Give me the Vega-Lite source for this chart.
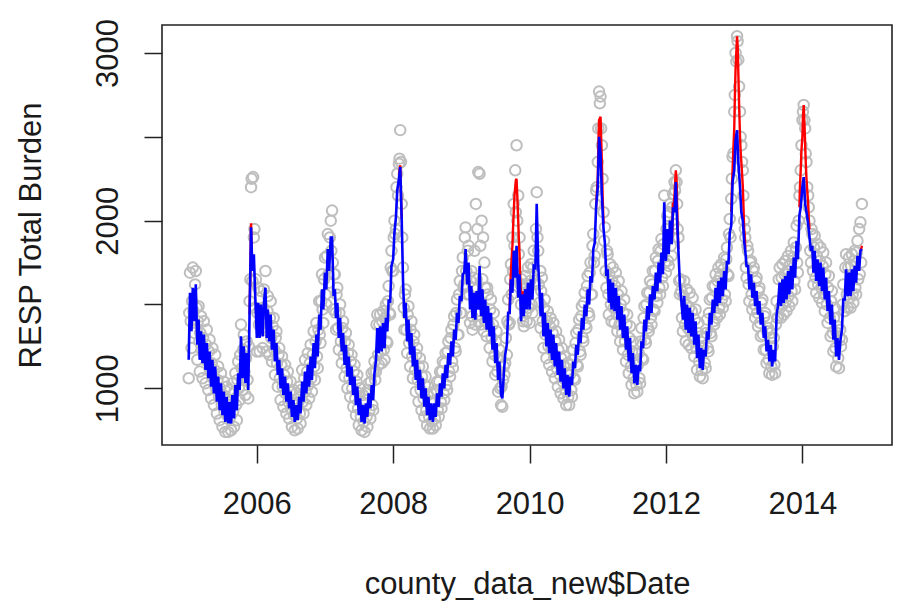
{
  "$schema": "https://vega.github.io/schema/vega-lite/v6.json",
  "width": 730,
  "height": 420,
  "autosize": {"type": "none"},
  "padding": {"left": 162, "top": 25, "right": 6, "bottom": 169},
  "background": "white",
  "config": {
    "view": {"stroke": "#222222", "strokeWidth": 1.6},
    "font": "Liberation Sans",
    "axis": {
      "domain": false,
      "grid": false,
      "ticks": true,
      "tickColor": "#222222",
      "tickWidth": 1.5,
      "tickSize": 18,
      "labelFont": "Liberation Sans",
      "labelFontSize": 31,
      "labelColor": "#1a1a1a",
      "titleFont": "Liberation Sans",
      "titleFontSize": 31,
      "titleFontWeight": "normal",
      "titleColor": "#1a1a1a"
    }
  },
  "data": {
    "values": [
      {"date":"2005-01-01","obs":1060,"fit2":1170},
      {"date":"2005-01-04","obs":1450},
      {"date":"2005-01-08","obs":1690,"fit2":1570},
      {"date":"2005-01-12","obs":1400},
      {"date":"2005-01-16","obs":1240,"fit2":1340},
      {"date":"2005-01-19","obs":1520},
      {"date":"2005-01-23","obs":1720,"fit2":1600},
      {"date":"2005-01-27","obs":1460},
      {"date":"2005-02-01","obs":1330,"fit2":1400},
      {"date":"2005-02-04","obs":1620},
      {"date":"2005-02-08","obs":1700,"fit2":1620},
      {"date":"2005-02-12","obs":1480},
      {"date":"2005-02-16","obs":1170,"fit2":1260},
      {"date":"2005-02-19","obs":1400},
      {"date":"2005-02-23","obs":1490,"fit2":1410},
      {"date":"2005-02-27","obs":1280},
      {"date":"2005-03-01","obs":1100,"fit2":1170},
      {"date":"2005-03-04","obs":1330},
      {"date":"2005-03-08","obs":1430,"fit2":1340},
      {"date":"2005-03-12","obs":1230},
      {"date":"2005-03-16","obs":1060,"fit2":1150},
      {"date":"2005-03-19","obs":1300},
      {"date":"2005-03-23","obs":1400,"fit2":1320},
      {"date":"2005-03-27","obs":1200},
      {"date":"2005-04-01","obs":1030,"fit2":1110},
      {"date":"2005-04-04","obs":1260},
      {"date":"2005-04-08","obs":1350,"fit2":1270},
      {"date":"2005-04-12","obs":1160},
      {"date":"2005-04-16","obs":990,"fit2":1060},
      {"date":"2005-04-19","obs":1220},
      {"date":"2005-04-23","obs":1290,"fit2":1220},
      {"date":"2005-04-27","obs":1100},
      {"date":"2005-05-01","obs":940,"fit2":1010},
      {"date":"2005-05-04","obs":1150},
      {"date":"2005-05-08","obs":1240,"fit2":1170},
      {"date":"2005-05-12","obs":1060},
      {"date":"2005-05-16","obs":900,"fit2":970},
      {"date":"2005-05-19","obs":1110},
      {"date":"2005-05-23","obs":1200,"fit2":1130},
      {"date":"2005-05-27","obs":1000},
      {"date":"2005-06-01","obs":850,"fit2":920},
      {"date":"2005-06-04","obs":1050},
      {"date":"2005-06-08","obs":1130,"fit2":1070},
      {"date":"2005-06-12","obs":950},
      {"date":"2005-06-16","obs":810,"fit2":870},
      {"date":"2005-06-19","obs":1000},
      {"date":"2005-06-23","obs":1090,"fit2":1030},
      {"date":"2005-06-27","obs":900},
      {"date":"2005-07-01","obs":770,"fit2":840},
      {"date":"2005-07-04","obs":960},
      {"date":"2005-07-08","obs":1040,"fit2":980},
      {"date":"2005-07-12","obs":860},
      {"date":"2005-07-16","obs":740,"fit2":800},
      {"date":"2005-07-19","obs":930},
      {"date":"2005-07-23","obs":1010,"fit2":950},
      {"date":"2005-07-27","obs":840},
      {"date":"2005-08-01","obs":740,"fit2":790},
      {"date":"2005-08-04","obs":900},
      {"date":"2005-08-08","obs":990,"fit2":920},
      {"date":"2005-08-12","obs":830},
      {"date":"2005-08-16","obs":750,"fit2":790},
      {"date":"2005-08-19","obs":920},
      {"date":"2005-08-23","obs":1030,"fit2":960},
      {"date":"2005-08-27","obs":860},
      {"date":"2005-09-01","obs":770,"fit2":820},
      {"date":"2005-09-04","obs":980},
      {"date":"2005-09-08","obs":1090,"fit2":1020},
      {"date":"2005-09-12","obs":900},
      {"date":"2005-09-16","obs":810,"fit2":870},
      {"date":"2005-09-19","obs":1050},
      {"date":"2005-09-23","obs":1160,"fit2":1090},
      {"date":"2005-09-27","obs":1000},
      {"date":"2005-10-01","obs":930,"fit2":990},
      {"date":"2005-10-04","obs":1200},
      {"date":"2005-10-08","obs":1380,"fit2":1310},
      {"date":"2005-10-12","obs":1120},
      {"date":"2005-10-16","obs":990,"fit2":1060},
      {"date":"2005-10-19","obs":1230},
      {"date":"2005-10-23","obs":1320,"fit2":1250},
      {"date":"2005-10-27","obs":1100},
      {"date":"2005-11-01","obs":960,"fit2":1030},
      {"date":"2005-11-04","obs":1180},
      {"date":"2005-11-08","obs":1280,"fit2":1210},
      {"date":"2005-11-12","obs":1050},
      {"date":"2005-11-16","obs":940,"fit2":990},
      {"date":"2005-11-19","obs":1250},
      {"date":"2005-11-23","obs":1520,"fit1":1440,"fit2":1440},
      {"date":"2005-11-27","obs":1650,"fit1":1700},
      {"date":"2005-12-01","obs":2200,"fit1":1985,"fit2":1960},
      {"date":"2005-12-04","obs":2250,"fit1":1850},
      {"date":"2005-12-08","obs":1640,"fit1":1720,"fit2":1700},
      {"date":"2005-12-12","obs":2260},
      {"date":"2005-12-16","obs":1900,"fit2":1800},
      {"date":"2005-12-19","obs":1950},
      {"date":"2005-12-23","obs":1480,"fit2":1560},
      {"date":"2005-12-27","obs":1650},
      {"date":"2006-01-01","obs":1220,"fit2":1300},
      {"date":"2006-01-04","obs":1450},
      {"date":"2006-01-08","obs":1600,"fit2":1510},
      {"date":"2006-01-12","obs":1380},
      {"date":"2006-01-16","obs":1220,"fit2":1300},
      {"date":"2006-01-19","obs":1470},
      {"date":"2006-01-23","obs":1580,"fit2":1500},
      {"date":"2006-01-27","obs":1360},
      {"date":"2006-02-01","obs":1240,"fit2":1310},
      {"date":"2006-02-04","obs":1480},
      {"date":"2006-02-08","obs":1590,"fit2":1510},
      {"date":"2006-02-12","obs":1400},
      {"date":"2006-02-16","obs":1700,"fit2":1600},
      {"date":"2006-02-19","obs":1420},
      {"date":"2006-02-23","obs":1220,"fit2":1300},
      {"date":"2006-02-27","obs":1460},
      {"date":"2006-03-01","obs":1550,"fit2":1470},
      {"date":"2006-03-04","obs":1340},
      {"date":"2006-03-08","obs":1200,"fit2":1280},
      {"date":"2006-03-12","obs":1420},
      {"date":"2006-03-16","obs":1520,"fit2":1440},
      {"date":"2006-03-19","obs":1300},
      {"date":"2006-03-23","obs":1160,"fit2":1230},
      {"date":"2006-03-27","obs":1370},
      {"date":"2006-04-01","obs":1420,"fit2":1350},
      {"date":"2006-04-04","obs":1230},
      {"date":"2006-04-08","obs":1080,"fit2":1160},
      {"date":"2006-04-12","obs":1300},
      {"date":"2006-04-16","obs":1340,"fit2":1270},
      {"date":"2006-04-19","obs":1150},
      {"date":"2006-04-23","obs":1010,"fit2":1080},
      {"date":"2006-04-27","obs":1200},
      {"date":"2006-05-01","obs":1240,"fit2":1170},
      {"date":"2006-05-04","obs":1060},
      {"date":"2006-05-08","obs":930,"fit2":1000},
      {"date":"2006-05-12","obs":1140},
      {"date":"2006-05-16","obs":1190,"fit2":1120},
      {"date":"2006-05-19","obs":1010},
      {"date":"2006-05-23","obs":890,"fit2":960},
      {"date":"2006-05-27","obs":1080},
      {"date":"2006-06-01","obs":1140,"fit2":1070},
      {"date":"2006-06-04","obs":970},
      {"date":"2006-06-08","obs":850,"fit2":920},
      {"date":"2006-06-12","obs":1040},
      {"date":"2006-06-16","obs":1100,"fit2":1030},
      {"date":"2006-06-19","obs":920},
      {"date":"2006-06-23","obs":820,"fit2":880},
      {"date":"2006-06-27","obs":980},
      {"date":"2006-07-01","obs":1040,"fit2":980},
      {"date":"2006-07-04","obs":880},
      {"date":"2006-07-08","obs":770,"fit2":830},
      {"date":"2006-07-12","obs":930},
      {"date":"2006-07-16","obs":990,"fit2":930},
      {"date":"2006-07-19","obs":840},
      {"date":"2006-07-23","obs":750,"fit2":800},
      {"date":"2006-07-27","obs":900},
      {"date":"2006-08-01","obs":970,"fit2":900},
      {"date":"2006-08-04","obs":820},
      {"date":"2006-08-08","obs":760,"fit2":810},
      {"date":"2006-08-12","obs":920},
      {"date":"2006-08-16","obs":1010,"fit2":950},
      {"date":"2006-08-19","obs":850},
      {"date":"2006-08-23","obs":790,"fit2":850},
      {"date":"2006-08-27","obs":990},
      {"date":"2006-09-01","obs":1110,"fit2":1040},
      {"date":"2006-09-04","obs":920},
      {"date":"2006-09-08","obs":850,"fit2":920},
      {"date":"2006-09-12","obs":1060},
      {"date":"2006-09-16","obs":1170,"fit2":1100},
      {"date":"2006-09-19","obs":980},
      {"date":"2006-09-23","obs":900,"fit2":970},
      {"date":"2006-09-27","obs":1100},
      {"date":"2006-10-01","obs":1210,"fit2":1140},
      {"date":"2006-10-04","obs":1020},
      {"date":"2006-10-08","obs":940,"fit2":1010},
      {"date":"2006-10-12","obs":1150},
      {"date":"2006-10-16","obs":1260,"fit2":1190},
      {"date":"2006-10-19","obs":1060},
      {"date":"2006-10-23","obs":980,"fit2":1050},
      {"date":"2006-10-27","obs":1200},
      {"date":"2006-11-01","obs":1340,"fit2":1270},
      {"date":"2006-11-04","obs":1130},
      {"date":"2006-11-08","obs":1050,"fit2":1120},
      {"date":"2006-11-12","obs":1280},
      {"date":"2006-11-16","obs":1390,"fit2":1320},
      {"date":"2006-11-19","obs":1190},
      {"date":"2006-11-23","obs":1120,"fit2":1190},
      {"date":"2006-11-27","obs":1350},
      {"date":"2006-12-01","obs":1520,"fit2":1440},
      {"date":"2006-12-04","obs":1320},
      {"date":"2006-12-08","obs":1270,"fit2":1350},
      {"date":"2006-12-12","obs":1520},
      {"date":"2006-12-16","obs":1680,"fit2":1590},
      {"date":"2006-12-19","obs":1470},
      {"date":"2006-12-23","obs":1390,"fit2":1470},
      {"date":"2006-12-27","obs":1650},
      {"date":"2007-01-01","obs":1780,"fit2":1690},
      {"date":"2007-01-04","obs":1560},
      {"date":"2007-01-08","obs":1500,"fit2":1590},
      {"date":"2007-01-12","obs":1790},
      {"date":"2007-01-16","obs":1920,"fit2":1830},
      {"date":"2007-01-19","obs":1680},
      {"date":"2007-01-23","obs":1630,"fit2":1700},
      {"date":"2007-01-27","obs":1900},
      {"date":"2007-02-01","obs":2000,"fit2":1900},
      {"date":"2007-02-04","obs":1820},
      {"date":"2007-02-08","obs":2060,"fit2":1900},
      {"date":"2007-02-12","obs":1750},
      {"date":"2007-02-16","obs":1470,"fit2":1550},
      {"date":"2007-02-19","obs":1680},
      {"date":"2007-02-23","obs":1680,"fit2":1590},
      {"date":"2007-02-27","obs":1450},
      {"date":"2007-03-01","obs":1350,"fit2":1420},
      {"date":"2007-03-04","obs":1560},
      {"date":"2007-03-08","obs":1600,"fit2":1510},
      {"date":"2007-03-12","obs":1360},
      {"date":"2007-03-16","obs":1230,"fit2":1300},
      {"date":"2007-03-19","obs":1450},
      {"date":"2007-03-23","obs":1500,"fit2":1420},
      {"date":"2007-03-27","obs":1280},
      {"date":"2007-04-01","obs":1150,"fit2":1220},
      {"date":"2007-04-04","obs":1360},
      {"date":"2007-04-08","obs":1400,"fit2":1330},
      {"date":"2007-04-12","obs":1200},
      {"date":"2007-04-16","obs":1070,"fit2":1140},
      {"date":"2007-04-19","obs":1280},
      {"date":"2007-04-23","obs":1330,"fit2":1260},
      {"date":"2007-04-27","obs":1120},
      {"date":"2007-05-01","obs":1000,"fit2":1070},
      {"date":"2007-05-04","obs":1210},
      {"date":"2007-05-08","obs":1260,"fit2":1190},
      {"date":"2007-05-12","obs":1060},
      {"date":"2007-05-16","obs":950,"fit2":1020},
      {"date":"2007-05-19","obs":1160},
      {"date":"2007-05-23","obs":1200,"fit2":1130},
      {"date":"2007-05-27","obs":1000},
      {"date":"2007-06-01","obs":890,"fit2":960},
      {"date":"2007-06-04","obs":1100},
      {"date":"2007-06-08","obs":1140,"fit2":1070},
      {"date":"2007-06-12","obs":940},
      {"date":"2007-06-16","obs":840,"fit2":900},
      {"date":"2007-06-19","obs":1040},
      {"date":"2007-06-23","obs":1080,"fit2":1010},
      {"date":"2007-06-27","obs":880},
      {"date":"2007-07-01","obs":780,"fit2":840},
      {"date":"2007-07-04","obs":970},
      {"date":"2007-07-08","obs":1000,"fit2":940},
      {"date":"2007-07-12","obs":830},
      {"date":"2007-07-16","obs":750,"fit2":800},
      {"date":"2007-07-19","obs":920},
      {"date":"2007-07-23","obs":960,"fit2":900},
      {"date":"2007-07-27","obs":800},
      {"date":"2007-08-01","obs":740,"fit2":790},
      {"date":"2007-08-04","obs":930},
      {"date":"2007-08-08","obs":970,"fit2":910},
      {"date":"2007-08-12","obs":830},
      {"date":"2007-08-16","obs":770,"fit2":830},
      {"date":"2007-08-19","obs":990},
      {"date":"2007-08-23","obs":1030,"fit2":970},
      {"date":"2007-08-27","obs":870},
      {"date":"2007-09-01","obs":820,"fit2":880},
      {"date":"2007-09-04","obs":1040},
      {"date":"2007-09-08","obs":1090,"fit2":1020},
      {"date":"2007-09-12","obs":900},
      {"date":"2007-09-16","obs":870,"fit2":930},
      {"date":"2007-09-19","obs":1100},
      {"date":"2007-09-23","obs":1160,"fit2":1090},
      {"date":"2007-09-27","obs":1050},
      {"date":"2007-10-01","obs":1100,"fit2":1170},
      {"date":"2007-10-04","obs":1380},
      {"date":"2007-10-08","obs":1440,"fit2":1360},
      {"date":"2007-10-12","obs":1200},
      {"date":"2007-10-16","obs":1140,"fit2":1210},
      {"date":"2007-10-19","obs":1380},
      {"date":"2007-10-23","obs":1440,"fit2":1370},
      {"date":"2007-10-27","obs":1220},
      {"date":"2007-11-01","obs":1150,"fit2":1220},
      {"date":"2007-11-04","obs":1400},
      {"date":"2007-11-08","obs":1460,"fit2":1390},
      {"date":"2007-11-12","obs":1230},
      {"date":"2007-11-16","obs":1170,"fit2":1240},
      {"date":"2007-11-19","obs":1420},
      {"date":"2007-11-23","obs":1500,"fit2":1420},
      {"date":"2007-11-27","obs":1280},
      {"date":"2007-12-01","obs":1270,"fit2":1340},
      {"date":"2007-12-04","obs":1520},
      {"date":"2007-12-08","obs":1610,"fit2":1530},
      {"date":"2007-12-12","obs":1450},
      {"date":"2007-12-16","obs":1440,"fit2":1510},
      {"date":"2007-12-19","obs":1720},
      {"date":"2007-12-23","obs":1820,"fit2":1730},
      {"date":"2007-12-27","obs":1700},
      {"date":"2008-01-01","obs":1700,"fit2":1770},
      {"date":"2008-01-04","obs":1900},
      {"date":"2008-01-08","obs":2000,"fit2":1930},
      {"date":"2008-01-12","obs":1920},
      {"date":"2008-01-16","obs":1950,"fit2":2020},
      {"date":"2008-01-19","obs":2200},
      {"date":"2008-01-23","obs":2280,"fit2":2180},
      {"date":"2008-01-27","obs":2150},
      {"date":"2008-02-01","obs":2340,"fit1":2270,"fit2":2250},
      {"date":"2008-02-04","obs":2370,"fit1":2300},
      {"date":"2008-02-08","obs":2540,"fit1":2330,"fit2":2320},
      {"date":"2008-02-12","obs":2350,"fit1":2150},
      {"date":"2008-02-16","obs":2100,"fit1":2010,"fit2":2000},
      {"date":"2008-02-19","obs":1900},
      {"date":"2008-02-23","obs":1720,"fit2":1640},
      {"date":"2008-02-27","obs":1480},
      {"date":"2008-03-01","obs":1350,"fit2":1420},
      {"date":"2008-03-04","obs":1560},
      {"date":"2008-03-08","obs":1590,"fit2":1510},
      {"date":"2008-03-12","obs":1350},
      {"date":"2008-03-16","obs":1210,"fit2":1280},
      {"date":"2008-03-19","obs":1440},
      {"date":"2008-03-23","obs":1490,"fit2":1410},
      {"date":"2008-03-27","obs":1270},
      {"date":"2008-04-01","obs":1130,"fit2":1200},
      {"date":"2008-04-04","obs":1350},
      {"date":"2008-04-08","obs":1400,"fit2":1330},
      {"date":"2008-04-12","obs":1190},
      {"date":"2008-04-16","obs":1060,"fit2":1130},
      {"date":"2008-04-19","obs":1280},
      {"date":"2008-04-23","obs":1320,"fit2":1250},
      {"date":"2008-04-27","obs":1110},
      {"date":"2008-05-01","obs":980,"fit2":1050},
      {"date":"2008-05-04","obs":1200},
      {"date":"2008-05-08","obs":1240,"fit2":1170},
      {"date":"2008-05-12","obs":1050},
      {"date":"2008-05-16","obs":920,"fit2":990},
      {"date":"2008-05-19","obs":1130},
      {"date":"2008-05-23","obs":1180,"fit2":1110},
      {"date":"2008-05-27","obs":990},
      {"date":"2008-06-01","obs":870,"fit2":940},
      {"date":"2008-06-04","obs":1070},
      {"date":"2008-06-08","obs":1130,"fit2":1060},
      {"date":"2008-06-12","obs":940},
      {"date":"2008-06-16","obs":830,"fit2":890},
      {"date":"2008-06-19","obs":1020},
      {"date":"2008-06-23","obs":1070,"fit2":1000},
      {"date":"2008-06-27","obs":870},
      {"date":"2008-07-01","obs":780,"fit2":840},
      {"date":"2008-07-04","obs":960},
      {"date":"2008-07-08","obs":1010,"fit2":950},
      {"date":"2008-07-12","obs":830},
      {"date":"2008-07-16","obs":760,"fit2":810},
      {"date":"2008-07-19","obs":920},
      {"date":"2008-07-23","obs":970,"fit2":910},
      {"date":"2008-07-27","obs":800},
      {"date":"2008-08-01","obs":760,"fit2":800},
      {"date":"2008-08-04","obs":920},
      {"date":"2008-08-08","obs":970,"fit2":910},
      {"date":"2008-08-12","obs":820},
      {"date":"2008-08-16","obs":780,"fit2":830},
      {"date":"2008-08-19","obs":990},
      {"date":"2008-08-23","obs":1040,"fit2":970},
      {"date":"2008-08-27","obs":870},
      {"date":"2008-09-01","obs":830,"fit2":890},
      {"date":"2008-09-04","obs":1040},
      {"date":"2008-09-08","obs":1100,"fit2":1030},
      {"date":"2008-09-12","obs":920},
      {"date":"2008-09-16","obs":880,"fit2":950},
      {"date":"2008-09-19","obs":1100},
      {"date":"2008-09-23","obs":1160,"fit2":1090},
      {"date":"2008-09-27","obs":970},
      {"date":"2008-10-01","obs":930,"fit2":1000},
      {"date":"2008-10-04","obs":1150},
      {"date":"2008-10-08","obs":1210,"fit2":1140},
      {"date":"2008-10-12","obs":1020},
      {"date":"2008-10-16","obs":990,"fit2":1060},
      {"date":"2008-10-19","obs":1220},
      {"date":"2008-10-23","obs":1280,"fit2":1210},
      {"date":"2008-10-27","obs":1100},
      {"date":"2008-11-01","obs":1070,"fit2":1140},
      {"date":"2008-11-04","obs":1300},
      {"date":"2008-11-08","obs":1350,"fit2":1280},
      {"date":"2008-11-12","obs":1160},
      {"date":"2008-11-16","obs":1120,"fit2":1190},
      {"date":"2008-11-19","obs":1380},
      {"date":"2008-11-23","obs":1430,"fit2":1350},
      {"date":"2008-11-27","obs":1240},
      {"date":"2008-12-01","obs":1220,"fit2":1290},
      {"date":"2008-12-04","obs":1450},
      {"date":"2008-12-08","obs":1530,"fit2":1450},
      {"date":"2008-12-12","obs":1320},
      {"date":"2008-12-16","obs":1320,"fit2":1390},
      {"date":"2008-12-19","obs":1560},
      {"date":"2008-12-23","obs":1640,"fit2":1550},
      {"date":"2008-12-27","obs":1450},
      {"date":"2009-01-01","obs":1450,"fit2":1520},
      {"date":"2009-01-04","obs":1700},
      {"date":"2009-01-08","obs":1780,"fit2":1680},
      {"date":"2009-01-12","obs":1600},
      {"date":"2009-01-16","obs":1620,"fit2":1690},
      {"date":"2009-01-19","obs":1900},
      {"date":"2009-01-23","obs":1960,"fit2":1830},
      {"date":"2009-01-27","obs":1700},
      {"date":"2009-02-01","obs":1560,"fit2":1620},
      {"date":"2009-02-04","obs":1820},
      {"date":"2009-02-08","obs":1850,"fit2":1750},
      {"date":"2009-02-12","obs":1560},
      {"date":"2009-02-16","obs":1390,"fit2":1470},
      {"date":"2009-02-19","obs":1640},
      {"date":"2009-02-23","obs":1700,"fit2":1610},
      {"date":"2009-02-27","obs":1430},
      {"date":"2009-03-01","obs":1350,"fit2":1420},
      {"date":"2009-03-04","obs":1600},
      {"date":"2009-03-08","obs":1660,"fit2":1570},
      {"date":"2009-03-12","obs":1820},
      {"date":"2009-03-16","obs":1380,"fit2":1410},
      {"date":"2009-03-19","obs":2100},
      {"date":"2009-03-23","obs":1650,"fit2":1580},
      {"date":"2009-03-27","obs":1950},
      {"date":"2009-04-01","obs":2290,"fit2":1470},
      {"date":"2009-04-04","obs":1400},
      {"date":"2009-04-08","obs":2280,"fit2":1730},
      {"date":"2009-04-12","obs":1850},
      {"date":"2009-04-16","obs":1380,"fit2":1430},
      {"date":"2009-04-19","obs":2000},
      {"date":"2009-04-23","obs":1650,"fit2":1590},
      {"date":"2009-04-27","obs":1900},
      {"date":"2009-05-01","obs":1340,"fit2":1390},
      {"date":"2009-05-04","obs":1750},
      {"date":"2009-05-08","obs":1600,"fit2":1530},
      {"date":"2009-05-12","obs":1400},
      {"date":"2009-05-16","obs":1310,"fit2":1350},
      {"date":"2009-05-19","obs":1600},
      {"date":"2009-05-23","obs":1560,"fit2":1490},
      {"date":"2009-05-27","obs":1380},
      {"date":"2009-06-01","obs":1240,"fit2":1310},
      {"date":"2009-06-04","obs":1470},
      {"date":"2009-06-08","obs":1530,"fit2":1450},
      {"date":"2009-06-12","obs":1300},
      {"date":"2009-06-16","obs":1160,"fit2":1230},
      {"date":"2009-06-19","obs":1380},
      {"date":"2009-06-23","obs":1450,"fit2":1370},
      {"date":"2009-06-27","obs":1200},
      {"date":"2009-07-01","obs":1080,"fit2":1150},
      {"date":"2009-07-04","obs":1280},
      {"date":"2009-07-08","obs":1340,"fit2":1270},
      {"date":"2009-07-12","obs":1100},
      {"date":"2009-07-16","obs":980,"fit2":1050},
      {"date":"2009-07-19","obs":1180},
      {"date":"2009-07-23","obs":1230,"fit2":1160},
      {"date":"2009-07-27","obs":1000},
      {"date":"2009-08-01","obs":900,"fit2":960},
      {"date":"2009-08-04","obs":1010},
      {"date":"2009-08-08","obs":890,"fit2":940},
      {"date":"2009-08-12","obs":1050},
      {"date":"2009-08-16","obs":1130,"fit2":1090},
      {"date":"2009-08-19","obs":1080},
      {"date":"2009-08-23","obs":1150,"fit2":1200},
      {"date":"2009-08-27","obs":1300},
      {"date":"2009-09-01","obs":1200,"fit2":1260},
      {"date":"2009-09-04","obs":1400},
      {"date":"2009-09-08","obs":1530,"fit2":1450},
      {"date":"2009-09-12","obs":1380},
      {"date":"2009-09-16","obs":1390,"fit1":1450,"fit2":1450},
      {"date":"2009-09-19","obs":1650,"fit1":1600},
      {"date":"2009-09-23","obs":1740,"fit1":1700,"fit2":1650},
      {"date":"2009-09-27","obs":1560,"fit1":1780},
      {"date":"2009-10-01","obs":1900,"fit1":1850,"fit2":1570},
      {"date":"2009-10-04","obs":1700,"fit1":1950},
      {"date":"2009-10-08","obs":2100,"fit1":2050,"fit2":1820},
      {"date":"2009-10-12","obs":1850,"fit1":2150},
      {"date":"2009-10-16","obs":2300,"fit1":2200,"fit2":1660},
      {"date":"2009-10-19","obs":2050,"fit1":2240},
      {"date":"2009-10-23","obs":2450,"fit1":2250,"fit2":1850},
      {"date":"2009-10-27","obs":2000,"fit1":2150},
      {"date":"2009-11-01","obs":2150,"fit1":2000,"fit2":1540},
      {"date":"2009-11-04","obs":1800,"fit1":1900},
      {"date":"2009-11-08","obs":1900,"fit1":1800,"fit2":1680},
      {"date":"2009-11-12","obs":1620,"fit1":1650},
      {"date":"2009-11-16","obs":1500,"fit1":1560,"fit2":1400},
      {"date":"2009-11-19","obs":1650,"fit1":1540},
      {"date":"2009-11-23","obs":1620,"fit1":1580,"fit2":1560},
      {"date":"2009-11-27","obs":1400,"fit1":1520},
      {"date":"2009-12-01","obs":1370,"fit1":1500,"fit2":1430},
      {"date":"2009-12-04","obs":1600,"fit1":1530},
      {"date":"2009-12-08","obs":1670,"fit1":1590,"fit2":1590},
      {"date":"2009-12-12","obs":1450},
      {"date":"2009-12-16","obs":1400,"fit2":1470},
      {"date":"2009-12-19","obs":1620},
      {"date":"2009-12-23","obs":1720,"fit2":1630},
      {"date":"2009-12-27","obs":1480},
      {"date":"2010-01-01","obs":1390,"fit2":1470},
      {"date":"2010-01-04","obs":1640},
      {"date":"2010-01-08","obs":1740,"fit2":1650},
      {"date":"2010-01-12","obs":1500},
      {"date":"2010-01-16","obs":1450,"fit2":1530},
      {"date":"2010-01-19","obs":1720},
      {"date":"2010-01-23","obs":1820,"fit2":1730},
      {"date":"2010-01-27","obs":1620},
      {"date":"2010-02-01","obs":1640,"fit2":1720},
      {"date":"2010-02-04","obs":1950},
      {"date":"2010-02-08","obs":2170,"fit2":2100},
      {"date":"2010-02-12","obs":1900},
      {"date":"2010-02-16","obs":1820,"fit2":1740},
      {"date":"2010-02-19","obs":1620},
      {"date":"2010-02-23","obs":1510,"fit2":1590},
      {"date":"2010-02-27","obs":1700},
      {"date":"2010-03-01","obs":1360,"fit2":1430},
      {"date":"2010-03-04","obs":1580},
      {"date":"2010-03-08","obs":1660,"fit2":1570},
      {"date":"2010-03-12","obs":1400},
      {"date":"2010-03-16","obs":1240,"fit2":1310},
      {"date":"2010-03-19","obs":1480},
      {"date":"2010-03-23","obs":1530,"fit2":1450},
      {"date":"2010-03-27","obs":1320},
      {"date":"2010-04-01","obs":1180,"fit2":1250},
      {"date":"2010-04-04","obs":1400},
      {"date":"2010-04-08","obs":1460,"fit2":1390},
      {"date":"2010-04-12","obs":1250},
      {"date":"2010-04-16","obs":1140,"fit2":1210},
      {"date":"2010-04-19","obs":1370},
      {"date":"2010-04-23","obs":1420,"fit2":1350},
      {"date":"2010-04-27","obs":1230},
      {"date":"2010-05-01","obs":1100,"fit2":1170},
      {"date":"2010-05-04","obs":1330},
      {"date":"2010-05-08","obs":1390,"fit2":1320},
      {"date":"2010-05-12","obs":1180},
      {"date":"2010-05-16","obs":1060,"fit2":1130},
      {"date":"2010-05-19","obs":1280},
      {"date":"2010-05-23","obs":1340,"fit2":1270},
      {"date":"2010-05-27","obs":1120},
      {"date":"2010-06-01","obs":1010,"fit2":1080},
      {"date":"2010-06-04","obs":1230},
      {"date":"2010-06-08","obs":1290,"fit2":1220},
      {"date":"2010-06-12","obs":1080},
      {"date":"2010-06-16","obs":970,"fit2":1040},
      {"date":"2010-06-19","obs":1180},
      {"date":"2010-06-23","obs":1240,"fit2":1170},
      {"date":"2010-06-27","obs":1040},
      {"date":"2010-07-01","obs":940,"fit2":1000},
      {"date":"2010-07-04","obs":1130},
      {"date":"2010-07-08","obs":1190,"fit2":1120},
      {"date":"2010-07-12","obs":990},
      {"date":"2010-07-16","obs":900,"fit2":960},
      {"date":"2010-07-19","obs":1090},
      {"date":"2010-07-23","obs":1150,"fit2":1080},
      {"date":"2010-07-27","obs":950},
      {"date":"2010-08-01","obs":900,"fit2":950},
      {"date":"2010-08-04","obs":1080},
      {"date":"2010-08-08","obs":1140,"fit2":1070},
      {"date":"2010-08-12","obs":990},
      {"date":"2010-08-16","obs":950,"fit2":1020},
      {"date":"2010-08-19","obs":1170},
      {"date":"2010-08-23","obs":1230,"fit2":1160},
      {"date":"2010-08-27","obs":1060},
      {"date":"2010-09-01","obs":1050,"fit2":1120},
      {"date":"2010-09-04","obs":1270},
      {"date":"2010-09-08","obs":1330,"fit2":1260},
      {"date":"2010-09-12","obs":1140},
      {"date":"2010-09-16","obs":1130,"fit2":1200},
      {"date":"2010-09-19","obs":1350},
      {"date":"2010-09-23","obs":1410,"fit2":1340},
      {"date":"2010-09-27","obs":1220},
      {"date":"2010-10-01","obs":1200,"fit2":1270},
      {"date":"2010-10-04","obs":1430},
      {"date":"2010-10-08","obs":1490,"fit2":1420},
      {"date":"2010-10-12","obs":1300},
      {"date":"2010-10-16","obs":1280,"fit2":1350},
      {"date":"2010-10-19","obs":1510},
      {"date":"2010-10-23","obs":1570,"fit2":1500},
      {"date":"2010-10-27","obs":1380},
      {"date":"2010-11-01","obs":1360,"fit2":1430},
      {"date":"2010-11-04","obs":1610},
      {"date":"2010-11-08","obs":1670,"fit2":1590},
      {"date":"2010-11-12","obs":1450},
      {"date":"2010-11-16","obs":1430,"fit2":1500},
      {"date":"2010-11-19","obs":1690},
      {"date":"2010-11-23","obs":1750,"fit2":1670},
      {"date":"2010-11-27","obs":1560},
      {"date":"2010-12-01","obs":1560,"fit2":1630},
      {"date":"2010-12-04","obs":1850},
      {"date":"2010-12-08","obs":1920,"fit2":1830},
      {"date":"2010-12-12","obs":1750},
      {"date":"2010-12-16","obs":1790,"fit2":1870},
      {"date":"2010-12-19","obs":2100},
      {"date":"2010-12-23","obs":2180,"fit1":2080,"fit2":2080},
      {"date":"2010-12-27","obs":2200,"fit1":2160},
      {"date":"2011-01-01","obs":2350,"fit1":2250,"fit2":2200},
      {"date":"2011-01-04","obs":2550,"fit1":2450},
      {"date":"2011-01-08","obs":2770,"fit1":2600,"fit2":2500},
      {"date":"2011-01-12","obs":2700,"fit1":2610},
      {"date":"2011-01-16","obs":2740,"fit1":2620,"fit2":2400},
      {"date":"2011-01-19","obs":2550,"fit1":2500},
      {"date":"2011-01-23","obs":2450,"fit1":2350,"fit2":2150},
      {"date":"2011-01-27","obs":2250,"fit1":2150},
      {"date":"2011-02-01","obs":2050,"fit1":1980,"fit2":1950},
      {"date":"2011-02-04","obs":1880},
      {"date":"2011-02-08","obs":1960,"fit2":1870},
      {"date":"2011-02-12","obs":1700},
      {"date":"2011-02-16","obs":1600,"fit2":1670},
      {"date":"2011-02-19","obs":1820},
      {"date":"2011-02-23","obs":1800,"fit2":1710},
      {"date":"2011-02-27","obs":1560},
      {"date":"2011-03-01","obs":1440,"fit2":1510},
      {"date":"2011-03-04","obs":1680},
      {"date":"2011-03-08","obs":1740,"fit2":1650},
      {"date":"2011-03-12","obs":1500},
      {"date":"2011-03-16","obs":1400,"fit2":1470},
      {"date":"2011-03-19","obs":1640},
      {"date":"2011-03-23","obs":1720,"fit2":1630},
      {"date":"2011-03-27","obs":1480},
      {"date":"2011-04-01","obs":1390,"fit2":1460},
      {"date":"2011-04-04","obs":1610},
      {"date":"2011-04-08","obs":1690,"fit2":1600},
      {"date":"2011-04-12","obs":1440},
      {"date":"2011-04-16","obs":1340,"fit2":1410},
      {"date":"2011-04-19","obs":1560},
      {"date":"2011-04-23","obs":1640,"fit2":1550},
      {"date":"2011-04-27","obs":1380},
      {"date":"2011-05-01","obs":1280,"fit2":1350},
      {"date":"2011-05-04","obs":1500},
      {"date":"2011-05-08","obs":1580,"fit2":1490},
      {"date":"2011-05-12","obs":1330},
      {"date":"2011-05-16","obs":1230,"fit2":1300},
      {"date":"2011-05-19","obs":1450},
      {"date":"2011-05-23","obs":1530,"fit2":1440},
      {"date":"2011-05-27","obs":1280},
      {"date":"2011-06-01","obs":1160,"fit2":1230},
      {"date":"2011-06-04","obs":1380},
      {"date":"2011-06-08","obs":1440,"fit2":1370},
      {"date":"2011-06-12","obs":1200},
      {"date":"2011-06-16","obs":1090,"fit2":1160},
      {"date":"2011-06-19","obs":1300},
      {"date":"2011-06-23","obs":1370,"fit2":1300},
      {"date":"2011-06-27","obs":1130},
      {"date":"2011-07-01","obs":1020,"fit2":1090},
      {"date":"2011-07-04","obs":1220},
      {"date":"2011-07-08","obs":1280,"fit2":1210},
      {"date":"2011-07-12","obs":1060},
      {"date":"2011-07-16","obs":970,"fit2":1030},
      {"date":"2011-07-19","obs":1150},
      {"date":"2011-07-23","obs":1210,"fit2":1140},
      {"date":"2011-07-27","obs":1020},
      {"date":"2011-08-01","obs":980,"fit2":1020},
      {"date":"2011-08-04","obs":1140},
      {"date":"2011-08-08","obs":1210,"fit2":1140},
      {"date":"2011-08-12","obs":1060},
      {"date":"2011-08-16","obs":1030,"fit2":1100},
      {"date":"2011-08-19","obs":1280},
      {"date":"2011-08-23","obs":1360,"fit2":1280},
      {"date":"2011-08-27","obs":1180},
      {"date":"2011-09-01","obs":1170,"fit2":1240},
      {"date":"2011-09-04","obs":1420},
      {"date":"2011-09-08","obs":1490,"fit2":1410},
      {"date":"2011-09-12","obs":1290},
      {"date":"2011-09-16","obs":1270,"fit2":1340},
      {"date":"2011-09-19","obs":1500},
      {"date":"2011-09-23","obs":1570,"fit2":1490},
      {"date":"2011-09-27","obs":1360},
      {"date":"2011-10-01","obs":1340,"fit2":1410},
      {"date":"2011-10-04","obs":1570},
      {"date":"2011-10-08","obs":1640,"fit2":1560},
      {"date":"2011-10-12","obs":1420},
      {"date":"2011-10-16","obs":1380,"fit2":1450},
      {"date":"2011-10-19","obs":1620},
      {"date":"2011-10-23","obs":1700,"fit2":1610},
      {"date":"2011-10-27","obs":1470},
      {"date":"2011-11-01","obs":1460,"fit2":1530},
      {"date":"2011-11-04","obs":1700},
      {"date":"2011-11-08","obs":1780,"fit2":1690},
      {"date":"2011-11-12","obs":1550},
      {"date":"2011-11-16","obs":1510,"fit2":1580},
      {"date":"2011-11-19","obs":1760},
      {"date":"2011-11-23","obs":1830,"fit2":1750},
      {"date":"2011-11-27","obs":1600},
      {"date":"2011-12-01","obs":1560,"fit2":1630},
      {"date":"2011-12-04","obs":1820},
      {"date":"2011-12-08","obs":1890,"fit2":1810},
      {"date":"2011-12-12","obs":1660},
      {"date":"2011-12-16","obs":1610,"fit2":1680},
      {"date":"2011-12-19","obs":1860},
      {"date":"2011-12-23","obs":2150,"fit2":2110},
      {"date":"2011-12-27","obs":1750},
      {"date":"2012-01-01","obs":1690,"fit2":1760},
      {"date":"2012-01-04","obs":1950},
      {"date":"2012-01-08","obs":2030,"fit2":1950},
      {"date":"2012-01-12","obs":1760},
      {"date":"2012-01-16","obs":1730,"fit2":1800},
      {"date":"2012-01-19","obs":2050},
      {"date":"2012-01-23","obs":2100,"fit2":2000},
      {"date":"2012-01-27","obs":1850},
      {"date":"2012-02-01","obs":1790,"fit1":1860,"fit2":1860},
      {"date":"2012-02-04","obs":2080,"fit1":1950},
      {"date":"2012-02-08","obs":2160,"fit1":2100,"fit2":2080},
      {"date":"2012-02-12","obs":1980,"fit1":2100},
      {"date":"2012-02-16","obs":2230,"fit1":2150,"fit2":2050},
      {"date":"2012-02-19","obs":2180,"fit1":2220},
      {"date":"2012-02-23","obs":2300,"fit1":2300,"fit2":2230},
      {"date":"2012-02-27","obs":2230,"fit1":2250},
      {"date":"2012-03-01","obs":2100,"fit1":2100,"fit2":2000},
      {"date":"2012-03-04","obs":1950,"fit1":1950},
      {"date":"2012-03-08","obs":1900,"fit1":1830,"fit2":1820},
      {"date":"2012-03-12","obs":1640},
      {"date":"2012-03-16","obs":1560,"fit2":1620},
      {"date":"2012-03-19","obs":1650},
      {"date":"2012-03-23","obs":1580,"fit2":1530},
      {"date":"2012-03-27","obs":1420},
      {"date":"2012-04-01","obs":1340,"fit2":1410},
      {"date":"2012-04-04","obs":1550},
      {"date":"2012-04-08","obs":1640,"fit2":1550},
      {"date":"2012-04-12","obs":1380},
      {"date":"2012-04-16","obs":1280,"fit2":1350},
      {"date":"2012-04-19","obs":1500},
      {"date":"2012-04-23","obs":1590,"fit2":1500},
      {"date":"2012-04-27","obs":1360},
      {"date":"2012-05-01","obs":1260,"fit2":1330},
      {"date":"2012-05-04","obs":1480},
      {"date":"2012-05-08","obs":1570,"fit2":1480},
      {"date":"2012-05-12","obs":1340},
      {"date":"2012-05-16","obs":1240,"fit2":1310},
      {"date":"2012-05-19","obs":1460},
      {"date":"2012-05-23","obs":1540,"fit2":1450},
      {"date":"2012-05-27","obs":1300},
      {"date":"2012-06-01","obs":1190,"fit2":1260},
      {"date":"2012-06-04","obs":1410},
      {"date":"2012-06-08","obs":1470,"fit2":1400},
      {"date":"2012-06-12","obs":1240},
      {"date":"2012-06-16","obs":1110,"fit2":1180},
      {"date":"2012-06-19","obs":1330},
      {"date":"2012-06-23","obs":1390,"fit2":1320},
      {"date":"2012-06-27","obs":1160},
      {"date":"2012-07-01","obs":1070,"fit2":1120},
      {"date":"2012-07-04","obs":1250},
      {"date":"2012-07-08","obs":1310,"fit2":1240},
      {"date":"2012-07-12","obs":1110},
      {"date":"2012-07-16","obs":1060,"fit2":1110},
      {"date":"2012-07-19","obs":1240},
      {"date":"2012-07-23","obs":1300,"fit2":1230},
      {"date":"2012-07-27","obs":1150},
      {"date":"2012-08-01","obs":1120,"fit2":1190},
      {"date":"2012-08-04","obs":1330},
      {"date":"2012-08-08","obs":1410,"fit2":1340},
      {"date":"2012-08-12","obs":1240},
      {"date":"2012-08-16","obs":1220,"fit2":1290},
      {"date":"2012-08-19","obs":1450},
      {"date":"2012-08-23","obs":1530,"fit2":1450},
      {"date":"2012-08-27","obs":1330},
      {"date":"2012-09-01","obs":1310,"fit2":1380},
      {"date":"2012-09-04","obs":1540},
      {"date":"2012-09-08","obs":1610,"fit2":1530},
      {"date":"2012-09-12","obs":1400},
      {"date":"2012-09-16","obs":1380,"fit2":1450},
      {"date":"2012-09-19","obs":1610},
      {"date":"2012-09-23","obs":1680,"fit2":1600},
      {"date":"2012-09-27","obs":1450},
      {"date":"2012-10-01","obs":1420,"fit2":1490},
      {"date":"2012-10-04","obs":1640},
      {"date":"2012-10-08","obs":1720,"fit2":1640},
      {"date":"2012-10-12","obs":1480},
      {"date":"2012-10-16","obs":1440,"fit2":1510},
      {"date":"2012-10-19","obs":1670},
      {"date":"2012-10-23","obs":1740,"fit2":1660},
      {"date":"2012-10-27","obs":1530},
      {"date":"2012-11-01","obs":1480,"fit2":1550},
      {"date":"2012-11-04","obs":1710},
      {"date":"2012-11-08","obs":1780,"fit2":1700},
      {"date":"2012-11-12","obs":1560},
      {"date":"2012-11-16","obs":1520,"fit2":1590},
      {"date":"2012-11-19","obs":1770},
      {"date":"2012-11-23","obs":1840,"fit2":1760},
      {"date":"2012-11-27","obs":1680},
      {"date":"2012-12-01","obs":1670,"fit2":1740},
      {"date":"2012-12-04","obs":1920},
      {"date":"2012-12-08","obs":2010,"fit2":1930},
      {"date":"2012-12-12","obs":1900},
      {"date":"2012-12-16","obs":2130,"fit1":2050,"fit2":1970},
      {"date":"2012-12-19","obs":2250,"fit1":2180},
      {"date":"2012-12-23","obs":2380,"fit1":2300,"fit2":2230},
      {"date":"2012-12-27","obs":2400,"fit1":2420},
      {"date":"2013-01-01","obs":2650,"fit1":2550,"fit2":2300},
      {"date":"2013-01-04","obs":2750,"fit1":2720},
      {"date":"2013-01-08","obs":3000,"fit1":2900,"fit2":2480},
      {"date":"2013-01-12","obs":2950,"fit1":3000},
      {"date":"2013-01-16","obs":3100,"fit1":3100,"fit2":2540},
      {"date":"2013-01-19","obs":3070,"fit1":3050},
      {"date":"2013-01-23","obs":2960,"fit1":2880,"fit2":2350},
      {"date":"2013-01-27","obs":2800,"fit1":2700},
      {"date":"2013-02-01","obs":2650,"fit1":2500,"fit2":2200},
      {"date":"2013-02-04","obs":2500,"fit1":2420},
      {"date":"2013-02-08","obs":2450,"fit1":2350,"fit2":2050},
      {"date":"2013-02-12","obs":2350,"fit1":2280},
      {"date":"2013-02-16","obs":2300,"fit1":2200,"fit2":2000},
      {"date":"2013-02-19","obs":2150,"fit1":2100},
      {"date":"2013-02-23","obs":2000,"fit1":1950,"fit2":1880},
      {"date":"2013-02-27","obs":1950,"fit1":1900},
      {"date":"2013-03-01","obs":1900,"fit1":1830,"fit2":1820},
      {"date":"2013-03-04","obs":1720},
      {"date":"2013-03-08","obs":1660,"fit2":1730},
      {"date":"2013-03-12","obs":1850},
      {"date":"2013-03-16","obs":1820,"fit2":1730},
      {"date":"2013-03-19","obs":1620},
      {"date":"2013-03-23","obs":1520,"fit2":1590},
      {"date":"2013-03-27","obs":1750},
      {"date":"2013-04-01","obs":1760,"fit2":1680},
      {"date":"2013-04-04","obs":1560},
      {"date":"2013-04-08","obs":1470,"fit2":1540},
      {"date":"2013-04-12","obs":1700},
      {"date":"2013-04-16","obs":1720,"fit2":1630},
      {"date":"2013-04-19","obs":1500},
      {"date":"2013-04-23","obs":1420,"fit2":1490},
      {"date":"2013-04-27","obs":1640},
      {"date":"2013-05-01","obs":1660,"fit2":1580},
      {"date":"2013-05-04","obs":1450},
      {"date":"2013-05-08","obs":1370,"fit2":1440},
      {"date":"2013-05-12","obs":1580},
      {"date":"2013-05-16","obs":1600,"fit2":1520},
      {"date":"2013-05-19","obs":1390},
      {"date":"2013-05-23","obs":1310,"fit2":1380},
      {"date":"2013-05-27","obs":1510},
      {"date":"2013-06-01","obs":1530,"fit2":1450},
      {"date":"2013-06-04","obs":1320},
      {"date":"2013-06-08","obs":1230,"fit2":1300},
      {"date":"2013-06-12","obs":1430},
      {"date":"2013-06-16","obs":1450,"fit2":1370},
      {"date":"2013-06-19","obs":1230},
      {"date":"2013-06-23","obs":1150,"fit2":1220},
      {"date":"2013-06-27","obs":1340},
      {"date":"2013-07-01","obs":1360,"fit2":1290},
      {"date":"2013-07-04","obs":1170},
      {"date":"2013-07-08","obs":1090,"fit2":1160},
      {"date":"2013-07-12","obs":1300},
      {"date":"2013-07-16","obs":1330,"fit2":1260},
      {"date":"2013-07-19","obs":1130},
      {"date":"2013-07-23","obs":1080,"fit2":1130},
      {"date":"2013-07-27","obs":1250},
      {"date":"2013-08-01","obs":1300,"fit2":1230},
      {"date":"2013-08-04","obs":1140},
      {"date":"2013-08-08","obs":1090,"fit2":1160},
      {"date":"2013-08-12","obs":1380},
      {"date":"2013-08-16","obs":1520,"fit2":1440},
      {"date":"2013-08-19","obs":1420},
      {"date":"2013-08-23","obs":1420,"fit2":1490},
      {"date":"2013-08-27","obs":1650},
      {"date":"2013-09-01","obs":1720,"fit2":1630},
      {"date":"2013-09-04","obs":1480},
      {"date":"2013-09-08","obs":1420,"fit2":1490},
      {"date":"2013-09-12","obs":1660},
      {"date":"2013-09-16","obs":1740,"fit2":1650},
      {"date":"2013-09-19","obs":1500},
      {"date":"2013-09-23","obs":1440,"fit2":1510},
      {"date":"2013-09-27","obs":1680},
      {"date":"2013-10-01","obs":1760,"fit2":1670},
      {"date":"2013-10-04","obs":1520},
      {"date":"2013-10-08","obs":1460,"fit2":1530},
      {"date":"2013-10-12","obs":1700},
      {"date":"2013-10-16","obs":1790,"fit2":1700},
      {"date":"2013-10-19","obs":1550},
      {"date":"2013-10-23","obs":1490,"fit2":1560},
      {"date":"2013-10-27","obs":1740},
      {"date":"2013-11-01","obs":1820,"fit2":1730},
      {"date":"2013-11-04","obs":1580},
      {"date":"2013-11-08","obs":1520,"fit2":1590},
      {"date":"2013-11-12","obs":1780},
      {"date":"2013-11-16","obs":1870,"fit2":1780},
      {"date":"2013-11-19","obs":1640},
      {"date":"2013-11-23","obs":1590,"fit2":1660},
      {"date":"2013-11-27","obs":1840},
      {"date":"2013-12-01","obs":1970,"fit2":1880},
      {"date":"2013-12-04","obs":1750},
      {"date":"2013-12-08","obs":1690,"fit2":1770},
      {"date":"2013-12-12","obs":2000},
      {"date":"2013-12-16","obs":2150,"fit1":2080,"fit2":2030},
      {"date":"2013-12-19","obs":2200,"fit1":2200},
      {"date":"2013-12-23","obs":2300,"fit1":2300,"fit2":2080},
      {"date":"2013-12-27","obs":2450,"fit1":2420},
      {"date":"2014-01-01","obs":2600,"fit1":2500,"fit2":2200},
      {"date":"2014-01-04","obs":2650,"fit1":2620},
      {"date":"2014-01-08","obs":2690,"fit1":2690,"fit2":2260},
      {"date":"2014-01-12","obs":2600,"fit1":2580},
      {"date":"2014-01-16","obs":2550,"fit1":2450,"fit2":2100},
      {"date":"2014-01-19","obs":2400,"fit1":2350},
      {"date":"2014-01-23","obs":2350,"fit1":2250,"fit2":2050},
      {"date":"2014-01-27","obs":2200,"fit1":2180},
      {"date":"2014-02-01","obs":2150,"fit1":2100,"fit2":1980},
      {"date":"2014-02-04","obs":2080,"fit1":2020},
      {"date":"2014-02-08","obs":2000,"fit1":1950,"fit2":1900},
      {"date":"2014-02-12","obs":1820},
      {"date":"2014-02-16","obs":1750,"fit2":1820},
      {"date":"2014-02-19","obs":1950},
      {"date":"2014-02-23","obs":1920,"fit2":1850},
      {"date":"2014-02-27","obs":1700},
      {"date":"2014-03-01","obs":1620,"fit2":1690},
      {"date":"2014-03-04","obs":1840},
      {"date":"2014-03-08","obs":1910,"fit2":1820},
      {"date":"2014-03-12","obs":1660},
      {"date":"2014-03-16","obs":1570,"fit2":1640},
      {"date":"2014-03-19","obs":1790},
      {"date":"2014-03-23","obs":1860,"fit2":1770},
      {"date":"2014-03-27","obs":1620},
      {"date":"2014-04-01","obs":1540,"fit2":1610},
      {"date":"2014-04-04","obs":1760},
      {"date":"2014-04-08","obs":1840,"fit2":1750},
      {"date":"2014-04-12","obs":1600},
      {"date":"2014-04-16","obs":1510,"fit2":1580},
      {"date":"2014-04-19","obs":1730},
      {"date":"2014-04-23","obs":1810,"fit2":1720},
      {"date":"2014-04-27","obs":1560},
      {"date":"2014-05-01","obs":1460,"fit2":1530},
      {"date":"2014-05-04","obs":1680},
      {"date":"2014-05-08","obs":1750,"fit2":1660},
      {"date":"2014-05-12","obs":1500},
      {"date":"2014-05-16","obs":1390,"fit2":1460},
      {"date":"2014-05-19","obs":1600},
      {"date":"2014-05-23","obs":1670,"fit2":1580},
      {"date":"2014-05-27","obs":1420},
      {"date":"2014-06-01","obs":1310,"fit2":1380},
      {"date":"2014-06-04","obs":1520},
      {"date":"2014-06-08","obs":1580,"fit2":1500},
      {"date":"2014-06-12","obs":1330},
      {"date":"2014-06-16","obs":1220,"fit2":1290},
      {"date":"2014-06-19","obs":1420},
      {"date":"2014-06-23","obs":1480,"fit2":1410},
      {"date":"2014-06-27","obs":1240},
      {"date":"2014-07-01","obs":1130,"fit2":1190},
      {"date":"2014-07-04","obs":1330},
      {"date":"2014-07-08","obs":1370,"fit2":1300},
      {"date":"2014-07-12","obs":1180},
      {"date":"2014-07-16","obs":1120,"fit2":1170},
      {"date":"2014-07-19","obs":1300},
      {"date":"2014-07-23","obs":1350,"fit2":1280},
      {"date":"2014-07-27","obs":1250},
      {"date":"2014-08-01","obs":1290,"fit2":1350},
      {"date":"2014-08-04","obs":1500},
      {"date":"2014-08-08","obs":1620,"fit2":1530},
      {"date":"2014-08-12","obs":1460},
      {"date":"2014-08-16","obs":1460,"fit2":1530},
      {"date":"2014-08-19","obs":1720},
      {"date":"2014-08-23","obs":1800,"fit2":1710},
      {"date":"2014-08-27","obs":1560},
      {"date":"2014-09-01","obs":1480,"fit2":1550},
      {"date":"2014-09-04","obs":1720},
      {"date":"2014-09-08","obs":1780,"fit2":1690},
      {"date":"2014-09-12","obs":1540},
      {"date":"2014-09-16","obs":1480,"fit2":1550},
      {"date":"2014-09-19","obs":1730},
      {"date":"2014-09-23","obs":1800,"fit2":1710},
      {"date":"2014-09-27","obs":1560},
      {"date":"2014-10-01","obs":1510,"fit2":1580},
      {"date":"2014-10-04","obs":1760},
      {"date":"2014-10-08","obs":1820,"fit2":1730},
      {"date":"2014-10-12","obs":1600},
      {"date":"2014-10-16","obs":1560,"fit2":1630},
      {"date":"2014-10-19","obs":1810},
      {"date":"2014-10-23","obs":1880,"fit2":1790},
      {"date":"2014-10-27","obs":1650},
      {"date":"2014-11-01","obs":1950,"fit2":1700},
      {"date":"2014-11-04","obs":1680},
      {"date":"2014-11-08","obs":1990,"fit1":1820,"fit2":1820},
      {"date":"2014-11-12","obs":1750,"fit1":1830},
      {"date":"2014-11-16","obs":2100,"fit1":1850,"fit2":1830}
    ]
  },
  "layer": [
    {
      "mark": {"type": "point", "shape": "circle", "filled": false, "stroke": "#bebebe", "strokeWidth": 2, "size": 110, "opacity": 1},
      "encoding": {
        "x": {
          "field": "date", "type": "temporal", "title": "county_data_new$Date",
          "scale": {"type": "utc", "domain": [{"year": 2004, "month": 8, "date": 11, "utc": true}, {"year": 2015, "month": 4, "date": 26, "utc": true}]},
          "axis": {
            "values": [
              {"year": 2006, "month": 1, "date": 1, "utc": true},
              {"year": 2008, "month": 1, "date": 1, "utc": true},
              {"year": 2010, "month": 1, "date": 1, "utc": true},
              {"year": 2012, "month": 1, "date": 1, "utc": true},
              {"year": 2014, "month": 1, "date": 1, "utc": true}
            ],
            "format": "%Y",
            "formatType": "utc",
            "labelAlign": "center",
            "labelBaseline": "alphabetic",
            "labelPadding": 50,
            "labelFlush": false,
            "labelOverlap": false,
            "titleX": 365,
            "titleY": 148,
            "titleAlign": "center",
            "titleBaseline": "alphabetic"
          }
        },
        "y": {
          "field": "obs", "type": "quantitative", "title": "RESP Total Burden",
          "scale": {"domain": [662, 3167], "nice": false, "zero": false},
          "axis": {
            "values": [1000, 1500, 2000, 2500, 3000],
            "format": "d",
            "labelExpr": "datum.value % 1000 === 0 ? datum.label : ''",
            "labelAngle": -90,
            "labelAlign": "center",
            "labelBaseline": "alphabetic",
            "labelPadding": 27,
            "labelOverlap": false,
            "titleAngle": 270,
            "titleX": -122,
            "titleY": 210,
            "titleAlign": "center",
            "titleBaseline": "alphabetic"
          }
        }
      }
    },
    {
      "mark": {"type": "line", "color": "#ff0000", "strokeWidth": 2.4, "invalid": "break-paths-show-domains"},
      "encoding": {
        "x": {"field": "date", "type": "temporal", "title": "county_data_new$Date"},
        "y": {"field": "fit1", "type": "quantitative", "title": "RESP Total Burden"}
      }
    },
    {
      "mark": {"type": "line", "color": "#0000ff", "strokeWidth": 2.6, "invalid": "filter"},
      "encoding": {
        "x": {"field": "date", "type": "temporal", "title": "county_data_new$Date"},
        "y": {"field": "fit2", "type": "quantitative", "title": "RESP Total Burden"}
      }
    }
  ]
}
